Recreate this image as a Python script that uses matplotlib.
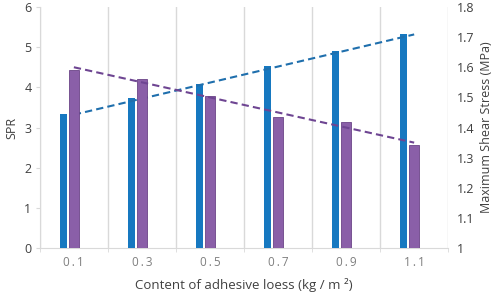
import numpy as np
import matplotlib
matplotlib.use("Agg")
import matplotlib.pyplot as plt

plt.rcParams['font.family'] = ['Open Sans', 'DejaVu Sans']

# data
contents = ["0.1", "0.3", "0.5", "0.7", "0.9", "1.1"]
spr = [3.33, 3.74, 4.08, 4.53, 4.90, 5.34]
shear = [1.591, 1.561, 1.506, 1.434, 1.418, 1.341]

BLUE, PURPLE = "#1678C0", "#8A5FA8"
GRID = "#d9d9d9"
TXT = "#404040"

x = np.arange(len(contents))
fig = plt.figure(figsize=(4.98, 2.94), dpi=100)
ax = fig.add_axes([0.080, 0.156, 0.820, 0.820])
ax2 = ax.twinx()

ax.bar(x - 0.153, spr, width=0.107, color=BLUE, zorder=3)
ax2.bar(x, shear, width=0.147, color=PURPLE, edgecolor="#6b4487", lw=0.6, zorder=3)

# linear trend lines
p1 = np.polyfit(x, spr, 1)
p2 = np.polyfit(x, shear, 1)
ax.plot(x, np.polyval(p1, x), ls=(0, (3.5, 2)), color="#1f6fad", lw=1.5, zorder=4)
ax2.plot(x, np.polyval(p2, x), ls=(0, (3.5, 2)), color="#6e4592", lw=1.5, zorder=4)

ax.set_xlim(-0.5, len(contents) - 0.5)
ax.set_ylim(0, 6)
ax2.set_ylim(1, 1.8)
ax.set_yticks(range(0, 7))
ax2.set_yticks(np.arange(1, 1.81, 0.1))
ax2.set_yticklabels(["1", "1.1", "1.2", "1.3", "1.4", "1.5", "1.6", "1.7", "1.8"])

ax.set_xticks(x)
ax.set_xticklabels(["\u2009".join(c) for c in contents], color="#7f7f7f", fontsize=8.5)
ax.set_xticks(np.arange(-0.5, len(contents)), minor=True)
ax.tick_params(axis="x", which="major", length=0, pad=6)
ax.tick_params(axis="x", which="minor", length=3, color=GRID)
ax.grid(axis="x", which="minor", color=GRID, lw=1, zorder=0)

ax.tick_params(axis="y", length=3, color=GRID, labelsize=9, labelcolor=TXT, pad=3)
ax2.tick_params(axis="y", length=0, labelsize=9, labelcolor=TXT, pad=6)

for a in (ax, ax2):
    for s in ("top", "right"):
        a.spines[s].set_visible(False)
ax2.spines["left"].set_visible(False)
ax2.spines["bottom"].set_visible(False)
ax.spines["left"].set_color(GRID)
ax.spines["bottom"].set_color(GRID)

ax.set_ylabel("SPR", fontsize=9, color=TXT, labelpad=4)
ax2.set_ylabel("Maximum Shear Stress (MPa)", fontsize=9, color=TXT, labelpad=4)
ax.set_xlabel("Content of adhesive loess (kg / m \u00b2)", fontsize=9.5, color=TXT, labelpad=6)

fig.savefig("out.png", dpi=100)
